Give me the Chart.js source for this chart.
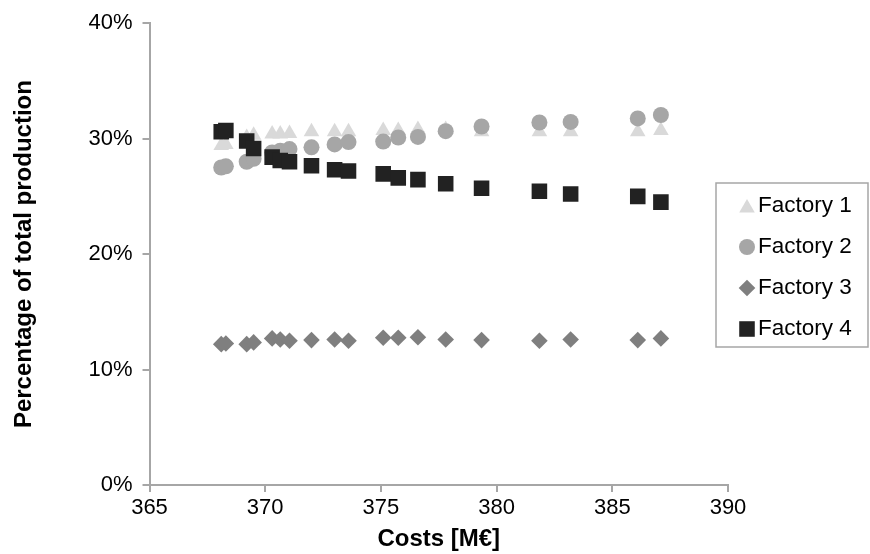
<!DOCTYPE html>
<html>
<head>
<meta charset="utf-8">
<script src="https://cdn.jsdelivr.net/npm/chart.js@4/dist/chart.umd.min.js"></script>
<style>
  html, body { margin: 0; padding: 0; background: #fff; }
  #wrap { width: 870px; height: 554px; }
</style>
</head>
<body>
<div id="wrap"><canvas id="chart"></canvas></div>
<script>
// costs in M€ (shared x values for all factories)
const costs = [368.1, 368.3, 369.2, 369.5, 370.3, 370.65, 371.05, 372.0, 373.0, 373.6,
  375.1, 375.75, 376.6, 377.8, 379.35, 381.85, 383.2, 386.1, 387.1];

// share of total production, in %
const factory1 = [29.4, 29.5, 30.1, 30.3, 30.4, 30.4, 30.45, 30.6, 30.6, 30.6,
  30.7, 30.7, 30.8, 30.8, 30.6, 30.6, 30.6, 30.6, 30.7];
const factory2 = [27.5, 27.6, 28.0, 28.25, 28.8, 28.95, 29.1, 29.25, 29.5, 29.7,
  29.75, 30.1, 30.15, 30.65, 31.05, 31.4, 31.45, 31.75, 32.05];
const factory3 = [12.2, 12.25, 12.2, 12.35, 12.7, 12.6, 12.5, 12.55, 12.6, 12.5,
  12.75, 12.75, 12.8, 12.6, 12.55, 12.5, 12.6, 12.55, 12.7];
const factory4 = [30.6, 30.7, 29.8, 29.15, 28.4, 28.1, 28.0, 27.65, 27.3, 27.2,
  26.95, 26.6, 26.45, 26.1, 25.7, 25.45, 25.2, 25.0, 24.5];

const seriesNames = ['Factory 1', 'Factory 2', 'Factory 3', 'Factory 4'];
const xTicks = [365, 370, 375, 380, 385, 390];
const yTicks = [0, 10, 20, 30, 40];

const FONT = "'Liberation Sans', Arial, sans-serif";
const AXIS_GRAY = '#a6a6a6';

const toPoints = (vals) => vals.map((v, i) => ({ x: costs[i], y: v }));

const styles = [
  { pointStyle: 'triangle', radius: 9, color: '#d9d9d9' },
  { pointStyle: 'circle', radius: 8, color: '#a6a6a6' },
  { pointStyle: 'rectRot', radius: 8.3, color: '#7f7f7f' },
  { pointStyle: 'rect', radius: 11, color: '#222222' }
];

const allSeries = [factory1, factory2, factory3, factory4];

const datasets = allSeries.map((vals, i) => ({
  label: seriesNames[i],
  data: toPoints(vals),
  pointStyle: styles[i].pointStyle,
  pointRadius: styles[i].radius,
  pointHoverRadius: styles[i].radius,
  backgroundColor: styles[i].color,
  borderColor: styles[i].color,
  borderWidth: 0,
  order: allSeries.length - 1 - i   // later factories drawn on top
}));

// boxed legend that sits over the right end of the plot, like the original
const boxLegend = {
  id: 'boxLegend',
  afterDraw(chart) {
    const ctx = chart.ctx;
    const left = 716, top = 183, w = 152, h = 164;
    ctx.save();
    ctx.fillStyle = '#fff';
    ctx.fillRect(left, top, w, h);
    ctx.strokeStyle = AXIS_GRAY;
    ctx.lineWidth = 1.5;
    ctx.strokeRect(left, top, w, h);

    ctx.font = '22.5px ' + FONT;
    ctx.textBaseline = 'middle';
    ctx.textAlign = 'left';
    chart.data.datasets.forEach((ds, i) => {
      const y = top + 23 + i * 41;
      const mx = left + 31;
      const opts = {
        pointStyle: ds.pointStyle,
        radius: ds.pointRadius,
        rotation: 0,
        borderWidth: 0
      };
      ctx.fillStyle = ds.backgroundColor;
      ctx.strokeStyle = ds.borderColor;
      Chart.helpers.drawPoint(ctx, opts, mx, y + (ds.pointStyle === 'triangle' ? 2 : 0));
      ctx.fillStyle = '#000';
      ctx.fillText(ds.label, left + 42, y);
    });
    ctx.restore();
  }
};

new Chart(document.getElementById('chart'), {
  type: 'scatter',
  data: { datasets },
  plugins: [boxLegend],
  options: {
    responsive: true,
    maintainAspectRatio: false,
    animation: false,
    layout: { padding: { top: 13.5, right: 142, left: 0, bottom: 0 } },
    plugins: {
      legend: { display: false },
      tooltip: { enabled: false }
    },
    scales: {
      x: {
        type: 'linear',
        min: xTicks[0],
        max: xTicks[xTicks.length - 1],
        afterBuildTicks: (s) => { s.ticks = xTicks.map(v => ({ value: v })); },
        afterFit: (s) => { s.height = 69; },
        ticks: {
          color: '#000',
          font: { family: FONT, size: 22 },
          padding: 3,
          maxRotation: 0
        },
        grid: {
          display: true,
          drawOnChartArea: false,
          drawTicks: true,
          tickLength: 7,
          color: AXIS_GRAY,
          lineWidth: 2
        },
        border: { display: true, color: AXIS_GRAY, width: 2 },
        title: {
          display: true,
          text: 'Costs [M€]',
          color: '#000',
          font: { family: FONT, size: 24, weight: 'bold' },
          padding: { top: 0, bottom: 0 }
        }
      },
      y: {
        type: 'linear',
        min: yTicks[0],
        max: yTicks[yTicks.length - 1],
        afterBuildTicks: (s) => { s.ticks = yTicks.map(v => ({ value: v })); },
        afterFit: (s) => { s.width = 149.5; },
        ticks: {
          color: '#000',
          font: { family: FONT, size: 22 },
          padding: 10,
          callback: (v) => v + '%'
        },
        grid: {
          display: true,
          drawOnChartArea: false,
          drawTicks: true,
          tickLength: 7,
          color: AXIS_GRAY,
          lineWidth: 2
        },
        border: { display: true, color: AXIS_GRAY, width: 2 },
        title: {
          display: true,
          text: 'Percentage of total production',
          color: '#000',
          font: { family: FONT, size: 24, weight: 'bold' },
          padding: { top: 10, bottom: 0 }
        }
      }
    }
  }
});
</script>
</body>
</html>
